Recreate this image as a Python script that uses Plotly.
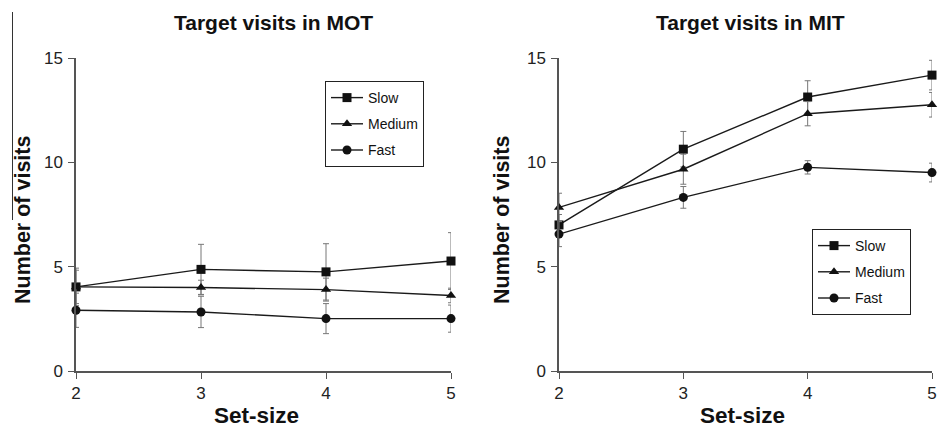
import plotly.graph_objects as go

set_size = [2, 3, 4, 5]
series_names = ["Slow", "Medium", "Fast"]

mot_slow = [4.03, 4.87, 4.75, 5.27]
mot_slow_err = [0.9, 1.2, 1.35, 1.36]
mot_medium = [4.03, 4.0, 3.9, 3.62]
mot_medium_err = [0.8, 0.35, 0.55, 0.35]
mot_fast = [2.91, 2.83, 2.51, 2.51]
mot_fast_err = [0.82, 0.75, 0.72, 0.65]

mit_slow = [7.0, 10.63, 13.13, 14.18]
mit_slow_err = [0.5, 0.85, 0.78, 0.71]
mit_medium = [7.84, 9.67, 12.33, 12.76]
mit_medium_err = [0.68, 0.72, 0.58, 0.59]
mit_fast = [6.56, 8.32, 9.76, 9.51]
mit_fast_err = [0.6, 0.52, 0.32, 0.45]

titles = ["Target visits in MOT", "Target visits in MIT"]
x_title = "Set-size"
y_title = "Number of visits"
y_ticks = [0, 5, 10, 15]

FONT = "Liberation Sans, Arial, sans-serif"
symbols = {"Slow": "square", "Medium": "triangle-up", "Fast": "circle"}
msize = {"Slow": 9, "Medium": 9, "Fast": 9}

fig = go.Figure()

panels = [
    ("x", "y", "legend", [(mot_slow, mot_slow_err), (mot_medium, mot_medium_err), (mot_fast, mot_fast_err)]),
    ("x2", "y2", "legend2", [(mit_slow, mit_slow_err), (mit_medium, mit_medium_err), (mit_fast, mit_fast_err)]),
]
for xa, ya, lg, data in panels:
    for name, (vals, errs) in zip(series_names, data):
        fig.add_trace(go.Scatter(
            x=set_size, y=vals, name=name, mode="lines+markers",
            xaxis=xa, yaxis=ya, legend=lg, legendgroup=lg + name,
            line=dict(color="#1a1a1a", width=1.4),
            marker=dict(symbol=symbols[name], size=msize[name], color="#111111"),
            error_y=dict(type="data", array=errs, visible=True,
                         color="#777777", thickness=1, width=3),
            cliponaxis=False,
        ))

axis_common = dict(
    showgrid=False, zeroline=False, showline=True, linecolor="#555555", linewidth=1.5,
    ticks="outside", ticklen=6, tickcolor="#555555", tickwidth=1,
    tickfont=dict(family=FONT, size=17, color="#222222"),
    automargin=False,
)
xaxis_common = dict(axis_common, ticklabelstandoff=0)
yaxis_common = dict(axis_common, ticklabelstandoff=2)
yd = [1 - 371 / 440, 1 - 58 / 440]
fig.update_layout(
    width=946, height=440, margin=dict(l=0, r=0, t=0, b=0, autoexpand=False),
    paper_bgcolor="white", plot_bgcolor="white",
    font=dict(family=FONT, color="#111111"),
    xaxis=dict(domain=[76 / 946, 451 / 946], range=[2, 5], tickvals=set_size, anchor="y", **xaxis_common),
    yaxis=dict(domain=yd, range=[0, 15], tickvals=y_ticks, anchor="x", **yaxis_common),
    xaxis2=dict(domain=[559 / 946, 932 / 946], range=[2, 5], tickvals=set_size, anchor="y2", **xaxis_common),
    yaxis2=dict(domain=yd, range=[0, 15], tickvals=y_ticks, anchor="x2", **yaxis_common),
    legend=dict(x=325 / 946, y=1 - 81 / 440, xanchor="left", yanchor="top",
                bordercolor="#222222", borderwidth=1, bgcolor="white",
                font=dict(family=FONT, size=14, color="#111111"),
                tracegroupgap=5, itemwidth=32),
    legend2=dict(x=812 / 946, y=1 - 229 / 440, xanchor="left", yanchor="top",
                 bordercolor="#222222", borderwidth=1, bgcolor="white",
                 font=dict(family=FONT, size=14, color="#111111"),
                 tracegroupgap=5, itemwidth=32),
    showlegend=True,
)

ann = []
for cx, t in zip([273, 750], titles):
    ann.append(dict(text="<b>%s</b>" % t, x=cx / 946, y=1 - 22 / 440, xref="paper", yref="paper",
                    showarrow=False, xanchor="center", yanchor="middle",
                    font=dict(family=FONT, size=21, color="#111111")))
for cx in [256, 742]:
    ann.append(dict(text="<b>%s</b>" % x_title, x=cx / 946, y=1 - 415 / 440, xref="paper", yref="paper",
                    showarrow=False, xanchor="center", yanchor="middle",
                    font=dict(family=FONT, size=22.5, color="#111111")))
for cx in [23, 502]:
    ann.append(dict(text="<b>%s</b>" % y_title, x=cx / 946, y=1 - 220 / 440, xref="paper", yref="paper",
                    showarrow=False, xanchor="center", yanchor="middle", textangle=-90,
                    font=dict(family=FONT, size=21.5, color="#111111")))
fig.update_layout(annotations=ann)

# scanning artifact line at top-left of the original figure
fig.add_shape(type="line", xref="paper", yref="paper",
              x0=12.5 / 946, x1=12.5 / 946, y0=1 - 12 / 440, y1=1 - 220 / 440,
              line=dict(color="#333333", width=1))

fig.write_html("out.html", config={"displayModeBar": False},
               post_script="document.body.style.margin='0';document.body.style.overflow='hidden';")
